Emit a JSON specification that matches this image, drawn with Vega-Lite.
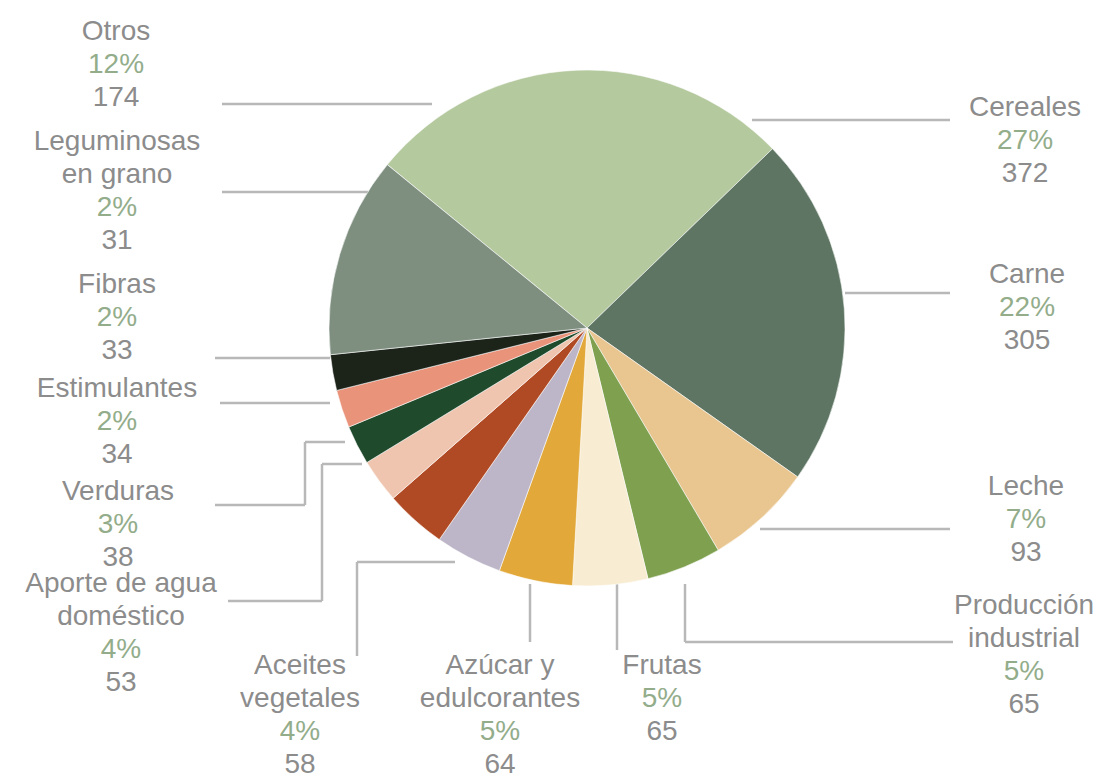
{
  "$schema": "https://vega.github.io/schema/vega-lite/v6.json",
  "width": 1098,
  "height": 778,
  "padding": 0,
  "autosize": {"type": "none"},
  "background": "#ffffff",
  "config": {"view": {"stroke": null}},
  "datasets": {
    "sectores": [
      {"categoria": "Cereales", "valor": 372, "pct": "27%", "orden": 1},
      {"categoria": "Carne", "valor": 305, "pct": "22%", "orden": 2},
      {"categoria": "Leche", "valor": 93, "pct": "7%", "orden": 3},
      {"categoria": "Producción industrial", "valor": 65, "pct": "5%", "orden": 4},
      {"categoria": "Frutas", "valor": 65, "pct": "5%", "orden": 5},
      {"categoria": "Azúcar y edulcorantes", "valor": 64, "pct": "5%", "orden": 6},
      {"categoria": "Aceites vegetales", "valor": 58, "pct": "4%", "orden": 7},
      {"categoria": "Aporte de agua doméstico", "valor": 53, "pct": "4%", "orden": 8},
      {"categoria": "Verduras", "valor": 38, "pct": "3%", "orden": 9},
      {"categoria": "Estimulantes", "valor": 34, "pct": "2%", "orden": 10},
      {"categoria": "Fibras", "valor": 33, "pct": "2%", "orden": 11},
      {"categoria": "Leguminosas en grano", "valor": 31, "pct": "2%", "orden": 12},
      {"categoria": "Otros", "valor": 174, "pct": "12%", "orden": 13}
    ],
    "etiquetas": [
      {"categoria": "Otros", "lineas": "Otros", "x": 116, "y": 18},
      {"categoria": "Leguminosas en grano", "lineas": "Leguminosas|en grano", "x": 117, "y": 128},
      {"categoria": "Fibras", "lineas": "Fibras", "x": 117, "y": 271},
      {"categoria": "Estimulantes", "lineas": "Estimulantes", "x": 117, "y": 375},
      {"categoria": "Verduras", "lineas": "Verduras", "x": 118, "y": 478},
      {"categoria": "Aporte de agua doméstico", "lineas": "Aporte de agua|doméstico", "x": 121, "y": 570},
      {"categoria": "Aceites vegetales", "lineas": "Aceites|vegetales", "x": 300, "y": 652},
      {"categoria": "Azúcar y edulcorantes", "lineas": "Azúcar y|edulcorantes", "x": 500, "y": 652},
      {"categoria": "Frutas", "lineas": "Frutas", "x": 662, "y": 652},
      {"categoria": "Producción industrial", "lineas": "Producción|industrial", "x": 1024, "y": 592},
      {"categoria": "Leche", "lineas": "Leche", "x": 1026, "y": 473},
      {"categoria": "Carne", "lineas": "Carne", "x": 1027, "y": 261},
      {"categoria": "Cereales", "lineas": "Cereales", "x": 1025, "y": 94}
    ],
    "guias": [
      {"x1": 222, "y1": 104, "x2": 432, "y2": 104},
      {"x1": 222, "y1": 192, "x2": 368, "y2": 192},
      {"x1": 215, "y1": 358, "x2": 330, "y2": 358},
      {"x1": 220, "y1": 403, "x2": 330, "y2": 403},
      {"x1": 215, "y1": 505, "x2": 305, "y2": 505},
      {"x1": 305, "y1": 505, "x2": 305, "y2": 442},
      {"x1": 305, "y1": 442, "x2": 345, "y2": 442},
      {"x1": 228, "y1": 601, "x2": 322, "y2": 601},
      {"x1": 322, "y1": 601, "x2": 322, "y2": 464},
      {"x1": 322, "y1": 464, "x2": 362, "y2": 464},
      {"x1": 357, "y1": 656, "x2": 357, "y2": 562},
      {"x1": 357, "y1": 562, "x2": 455, "y2": 562},
      {"x1": 530, "y1": 642, "x2": 530, "y2": 584},
      {"x1": 617, "y1": 650, "x2": 617, "y2": 584},
      {"x1": 953, "y1": 642, "x2": 685, "y2": 642},
      {"x1": 685, "y1": 642, "x2": 685, "y2": 584},
      {"x1": 760, "y1": 529, "x2": 950, "y2": 529},
      {"x1": 845, "y1": 293, "x2": 950, "y2": 293},
      {"x1": 752, "y1": 120, "x2": 950, "y2": 120}
    ]
  },
  "layer": [
    {
      "data": {"name": "guias"},
      "mark": {"type": "rule", "color": "#b8b8b8", "strokeWidth": 2.5},
      "encoding": {
        "x": {"field": "x1", "type": "quantitative", "scale": {"domain": [0, 1098], "range": [0, 1098], "nice": false, "zero": false}, "axis": null},
        "y": {"field": "y1", "type": "quantitative", "scale": {"domain": [0, 778], "range": [0, 778], "nice": false, "zero": false}, "axis": null},
        "x2": {"field": "x2"},
        "y2": {"field": "y2"}
      }
    },
    {
      "data": {"name": "sectores"},
      "mark": {"type": "arc", "radius": 258, "stroke": "#ffffff", "strokeWidth": 0.8, "strokeOpacity": 0.7},
      "encoding": {
        "x": {"datum": 587, "type": "quantitative"},
        "y": {"datum": 328, "type": "quantitative"},
        "theta": {"field": "valor", "type": "quantitative", "stack": true, "scale": {"range": [-0.885, 5.398]}},
        "order": {"field": "orden", "type": "quantitative"},
        "color": {
          "field": "categoria",
          "type": "nominal",
          "legend": null,
          "scale": {
            "domain": ["Cereales", "Carne", "Leche", "Producción industrial", "Frutas", "Azúcar y edulcorantes", "Aceites vegetales", "Aporte de agua doméstico", "Verduras", "Estimulantes", "Fibras", "Leguminosas en grano", "Otros"],
            "range": ["#b5c99f", "#5d7562", "#e9c58f", "#7ea04f", "#f8ecd2", "#e2a93a", "#bdb6c8", "#b04a24", "#efc5b0", "#1f4a2c", "#e9937a", "#1c2319", "#7e8f80"]
          }
        }
      }
    },
    {
      "data": {"name": "etiquetas"},
      "mark": {"type": "text", "font": "Liberation Sans", "fontSize": 28, "lineHeight": 33, "lineBreak": "|", "align": "center", "baseline": "top", "color": "#8c8c8c"},
      "encoding": {
        "x": {"field": "x", "type": "quantitative"},
        "y": {"field": "y", "type": "quantitative"},
        "text": {"field": "lineas"}
      }
    },
    {
      "data": {"name": "etiquetas"},
      "transform": [
        {"lookup": "categoria", "from": {"data": {"name": "sectores"}, "key": "categoria", "fields": ["pct"]}},
        {"calculate": "datum.y + (indexof(datum.lineas, '|') >= 0 ? 66 : 33)", "as": "yPct"}
      ],
      "mark": {"type": "text", "font": "Liberation Sans", "fontSize": 28, "align": "center", "baseline": "top", "color": "#93ad8b"},
      "encoding": {
        "x": {"field": "x", "type": "quantitative"},
        "y": {"field": "yPct", "type": "quantitative"},
        "text": {"field": "pct"}
      }
    },
    {
      "data": {"name": "etiquetas"},
      "transform": [
        {"lookup": "categoria", "from": {"data": {"name": "sectores"}, "key": "categoria", "fields": ["valor"]}},
        {"calculate": "datum.y + (indexof(datum.lineas, '|') >= 0 ? 99 : 66)", "as": "yValor"}
      ],
      "mark": {"type": "text", "font": "Liberation Sans", "fontSize": 28, "align": "center", "baseline": "top", "color": "#8c8c8c"},
      "encoding": {
        "x": {"field": "x", "type": "quantitative"},
        "y": {"field": "yValor", "type": "quantitative"},
        "text": {"field": "valor", "type": "quantitative"}
      }
    }
  ]
}
